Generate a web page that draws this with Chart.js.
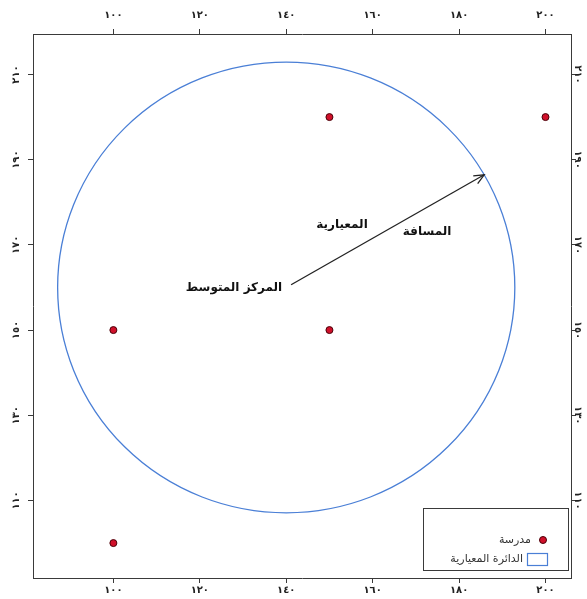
<!DOCTYPE html>
<html><head><meta charset="utf-8">
<script src="https://cdn.jsdelivr.net/npm/chart.js@4.4.1/dist/chart.umd.min.js"></script>
<style>html,body{margin:0;padding:0;background:#fff}canvas{display:block}</style>
</head><body>
<canvas id="c" width="587" height="599"></canvas>
<script>
// ---- data ----
const xTicks = [100, 120, 140, 160, 180, 200];
const yTicks = [110, 130, 150, 170, 190, 210];
const schoolX = [100, 100, 150, 150, 200];
const schoolY = [100, 150, 150, 200, 200];
const meanCenter = [140, 160];
const standardDistance = 52.9;
const distanceAngleDeg = 30;
const seriesLabels = ['مدرسة', 'الدائرة المعيارية'];
const centerLabel = 'المركز المتوسط';
const distanceWords = ['المعيارية', 'المسافة'];

// ---- layout / style ----
const xRange = [81.4, 205.9];
const yRange = [91.8, 219.5];
const wordPos = [[152.9, 174.7], [172.6, 173.0]];
const FONT = 'DejaVu Sans';
const frameColor = '#3a3a3a';
const circleColor = '#4a7fd6';
const dotFill = '#d0102a';
const dotEdge = '#4a0008';

const toAr = v => String(v).replace(/\d/g, d => '٠١٢٣٤٥٦٧٨٩'[d]);

function axis(pos, range, ticks, extra) {
  return Object.assign({
    type: 'linear', position: pos, min: range[0], max: range[1],
    afterBuildTicks: s => { s.ticks = ticks.map(v => ({ value: v })); },
    ticks: { callback: v => toAr(v), autoSkip: false, color: '#222',
      font: { family: FONT, size: 10, weight: 'bold' } },
    grid: { drawOnChartArea: false, drawTicks: true, tickLength: 5, color: frameColor, lineWidth: 1 },
    border: { display: true, color: frameColor, width: 1 }
  }, extra);
}

const overlay = {
  id: 'overlay',
  beforeDatasetsDraw(chart) {
    const { ctx, scales: { x, y } } = chart;
    const cx = x.getPixelForValue(meanCenter[0]);
    const cy = y.getPixelForValue(meanCenter[1]);
    const rx = x.getPixelForValue(meanCenter[0] + standardDistance) - cx;
    const ry = cy - y.getPixelForValue(meanCenter[1] + standardDistance);
    ctx.save();
    ctx.strokeStyle = circleColor; ctx.lineWidth = 1.3;
    ctx.beginPath(); ctx.ellipse(cx, cy, rx, ry, 0, 0, Math.PI * 2); ctx.stroke();
    ctx.restore();
  },
  afterDatasetsDraw(chart) {
    const { ctx, scales: { x, y }, chartArea } = chart;
    const a = distanceAngleDeg * Math.PI / 180;
    const sx = x.getPixelForValue(meanCenter[0] + 1.3 * Math.cos(a));
    const sy = y.getPixelForValue(meanCenter[1] + 1.3 * Math.sin(a));
    const ex = x.getPixelForValue(meanCenter[0] + standardDistance * Math.cos(a));
    const ey = y.getPixelForValue(meanCenter[1] + standardDistance * Math.sin(a));
    const cx = x.getPixelForValue(meanCenter[0]);
    const cy = y.getPixelForValue(meanCenter[1]);
    ctx.save();
    ctx.strokeStyle = '#222'; ctx.lineWidth = 1.3;
    ctx.beginPath(); ctx.moveTo(sx, sy); ctx.lineTo(ex, ey); ctx.stroke();
    const ang = Math.atan2(ey - sy, ex - sx);
    const hl = 11, hw = 0.42;
    ctx.beginPath();
    ctx.moveTo(ex - hl * Math.cos(ang - hw), ey - hl * Math.sin(ang - hw));
    ctx.lineTo(ex, ey);
    ctx.lineTo(ex - hl * Math.cos(ang + hw), ey - hl * Math.sin(ang + hw));
    ctx.stroke();

    ctx.fillStyle = '#111';
    ctx.font = 'bold 12px "' + FONT + '"';
    ctx.direction = 'rtl';
    ctx.textBaseline = 'middle';
    ctx.textAlign = 'right';
    ctx.fillText(centerLabel, cx - 4, cy);
    ctx.textAlign = 'center';
    distanceWords.forEach((w, i) => {
      ctx.fillText(w, x.getPixelForValue(wordPos[i][0]), y.getPixelForValue(wordPos[i][1]));
    });

    // legend
    const R = chartArea.right - 2, B = chartArea.bottom - 7;
    const L = R - 146, T = B - 63;
    ctx.fillStyle = '#fff'; ctx.fillRect(L, T, R - L, B - T);
    ctx.strokeStyle = frameColor; ctx.lineWidth = 1;
    ctx.strokeRect(L + 0.5, T + 0.5, R - L - 1, B - T - 1);
    const ds = chart.data.datasets[0];
    ctx.beginPath(); ctx.arc(R - 26, T + 32, 3.5, 0, Math.PI * 2);
    ctx.fillStyle = dotFill; ctx.fill(); ctx.strokeStyle = dotEdge; ctx.stroke();
    ctx.strokeStyle = circleColor; ctx.lineWidth = 1.2;
    ctx.strokeRect(R - 41.5, T + 45.5, 20, 12);
    ctx.fillStyle = '#333';
    ctx.font = '11px "' + FONT + '"';
    ctx.textAlign = 'right';
    ctx.fillText(ds.label, R - 38, T + 32);
    ctx.fillText(seriesLabels[1], R - 46, T + 51);
    ctx.restore();
  }
};

new Chart(document.getElementById('c'), {
  type: 'scatter',
  data: {
    datasets: [{
      label: seriesLabels[0],
      data: schoolX.map((v, i) => ({ x: v, y: schoolY[i] })),
      pointRadius: 3.5, pointHoverRadius: 3.5,
      backgroundColor: dotFill, borderColor: dotEdge, borderWidth: 1
    }]
  },
  options: {
    responsive: false, animation: false, devicePixelRatio: 1,
    layout: { padding: 0 },
    plugins: { legend: { display: false }, tooltip: { enabled: false } },
    scales: {
      x: axis('bottom', xRange, xTicks, { afterFit: s => { s.height = 21; } }),
      x2: axis('top', xRange, xTicks, { afterFit: s => { s.height = 34; } }),
      y: axis('left', yRange, yTicks, { afterFit: s => { s.width = 33; } }),
      y2: axis('right', yRange, yTicks, { afterFit: s => { s.width = 16; } })
    }
  },
  plugins: [overlay]
});
const ch = Chart.getChart('c');
ch.options.scales.x.ticks.padding = 1;
ch.options.scales.x2.ticks.padding = 8;
Object.assign(ch.options.scales.y.ticks, { minRotation: 90, maxRotation: 90, crossAlign: 'center', padding: 2.5 });
Object.assign(ch.options.scales.y2.ticks, { minRotation: -90, maxRotation: -90, crossAlign: 'center', padding: -8 });
ch.update();
</script>
</body></html>
